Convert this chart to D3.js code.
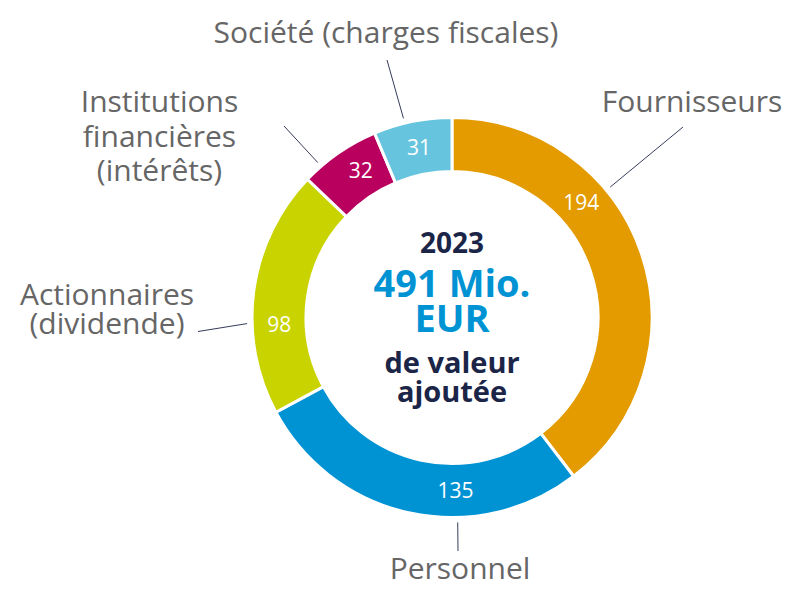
<!DOCTYPE html>
<html lang="fr">
<head>
<meta charset="UTF-8">
<title>Valeur ajoutée 2023</title>
<style>
  body { margin: 0; background: #fff; }
  svg text { font-family: "Open Sans", Lato, sans-serif; }
</style>
<script src="https://d3js.org/d3.v7.min.js"></script>
</head>
<body>
<svg id="chart" width="801" height="592"></svg>
<script>
// data
const categories = ["Fournisseurs", "Personnel", "Actionnaires (dividende)", "Institutions financières (intérêts)", "Société (charges fiscales)"];
const values = [194, 135, 98, 32, 31];
const colors = ["#e39b00", "#0093d4", "#c9d300", "#ba005f", "#66c4de"];
const labelLines = [["Fournisseurs"], ["Personnel"], ["Actionnaires", "(dividende)"], ["Institutions", "financières", "(intérêts)"], ["Société (charges fiscales)"]];
const centerLines = ["2023", "491 Mio.", "EUR", "de valeur", "ajoutée"];

// layout
const cx = 452, cy = 317.5, rOuter = 200, rInner = 146;
const valueAngle = [48.4, 178.8, 267.8, 328.2, 349];      // deg, clockwise from top
const leaderAngle = [50.5, 178.4, 268.3, 319.1, 346.3];
const leaderEnd = [[683, 127], [458, 551], [198, 331.5], [284, 126], [387, 60]];
const labelPos = [[692, 112], [460, 579], [107, 305], [159.5, 112], [386, 43]];
const lineGap = [0, 0, 29, 34.5, 0];

const svg = d3.select("#chart");
const g = svg.append("g").attr("transform", `translate(${cx},${cy})`);

const pie = d3.pie().sort(null).value(d => d)(values);
const arc = d3.arc().innerRadius(rInner).outerRadius(rOuter);

g.selectAll("path.slice")
  .data(pie)
  .enter().append("path")
  .attr("class", "slice")
  .attr("d", arc)
  .attr("fill", (d, i) => colors[i])
  .attr("stroke", "#fff")
  .attr("stroke-width", 3);

const rad = a => a * Math.PI / 180;
const pt = (a, r) => [Math.sin(rad(a)) * r, -Math.cos(rad(a)) * r];
const rMid = (rInner + rOuter) / 2;

// value labels
g.selectAll("text.val")
  .data(values)
  .enter().append("text")
  .attr("class", "val")
  .attr("x", (d, i) => pt(valueAngle[i], rMid)[0])
  .attr("y", (d, i) => pt(valueAngle[i], rMid)[1])
  .attr("dy", "0.36em")
  .attr("text-anchor", "middle")
  .attr("fill", "#fff")
  .attr("font-size", 21)
  .text(d => d);

// leader lines
svg.selectAll("line.leader")
  .data(categories)
  .enter().append("line")
  .attr("class", "leader")
  .attr("x1", (d, i) => cx + pt(leaderAngle[i], 205)[0])
  .attr("y1", (d, i) => cy + pt(leaderAngle[i], 205)[1])
  .attr("x2", (d, i) => leaderEnd[i][0])
  .attr("y2", (d, i) => leaderEnd[i][1])
  .attr("stroke", "#353c5c")
  .attr("stroke-width", 1);

// category labels
const lab = svg.selectAll("text.cat")
  .data(labelLines)
  .enter().append("text")
  .attr("class", "cat")
  .attr("text-anchor", "middle")
  .attr("fill", "#666")
  .attr("font-size", 30)
  .attr("transform", (d, i) => `translate(${labelPos[i][0]},${labelPos[i][1]})`);
lab.selectAll("tspan")
  .data((d, i) => d.map(t => ({ t, gap: lineGap[i] })))
  .enter().append("tspan")
  .attr("x", 0)
  .attr("y", (d, j) => j * d.gap)
  .text(d => d.t);

// centre text
const centerStyle = [
  { size: 28, color: "#1b2547", y: 253 },
  { size: 38, color: "#0093d4", y: 297 },
  { size: 38, color: "#0093d4", y: 332 },
  { size: 29, color: "#1b2547", y: 373 },
  { size: 29, color: "#1b2547", y: 402 }
];
svg.selectAll("text.center")
  .data(centerLines)
  .enter().append("text")
  .attr("class", "center")
  .attr("x", cx)
  .attr("y", (d, i) => centerStyle[i].y)
  .attr("text-anchor", "middle")
  .attr("font-weight", "bold")
  .attr("font-size", (d, i) => centerStyle[i].size)
  .attr("fill", (d, i) => centerStyle[i].color)
  .text(d => d);
</script>
</body>
</html>
